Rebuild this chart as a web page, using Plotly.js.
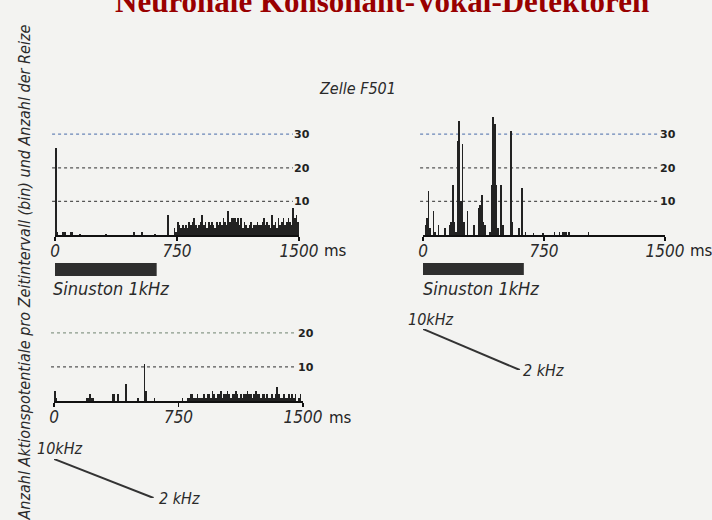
<!DOCTYPE html>
<html><head><meta charset="utf-8">
<script src="https://cdn.plot.ly/plotly-3.0.1.min.js"></script>
<style>html,body{margin:0;padding:0;background:#f3f3f1;}</style>
</head><body>
<div id="chart" style="width:712px;height:520px;"></div>
<script>
// ---- data (bin width 10 ms, 0..1500 ms) ----
const binStart = 5, binWidth = 10;
const xTicks = [0, 750, 1500];
const xTickText = ['0', '750', '1500'];
const gridTop = [10, 20, 30];
const gridBottom = [10, 20];
const stimulus = [-15, 625];          // Sinuston 1 kHz (ms, as drawn)
const sweepTime = [0, 600];           // FM sweep (ms)
const sweepFreq = [10, 2];            // kHz
const cellLabel = 'Zelle F501';

const countsTone = [
 26,1,0,0,1,1,1,0,0,1,
 1,0,0,0,0,0.4,0,0,0,0,
 0,0,0,0,0,0,0,0,0,0,
 0,0.4,0,0,0,0,0,0,0,0,
 0,0,0,0,0,0,0,0,1,0,
 0,0,0,1,0,0,0,0,0,0,
 0,0.4,0,0,0,0,0,0,0,6,
 0,0,0,2,1,4,3,2,3,2,
 3,2,4,3,4,5,3,2,3,4,
 6,3,4,2,4,3,4,3,2,4,
 3,4,3,5,4,3,7,4,5,5,
 5,4,5,3,5,2,4,3,2,3,
 4,2,3,3,4,3,3,4,5,3,
 4,3,2,6,3,4,2,5,3,4,
 5,3,4,5,4,3,8,5,6,4
];
const countsToneSweep = [
 0,3,5,13,2,0,7,1,0,3,
 0,0,0,2,0,0,3,4,15,4,
 1,28,34,10,27,4,0,7,0,0,
 0,3,0,0,8,9,12,4,3,0,
 0,1,15,35,33,15,2,0,15,3,
 0,0,0,0,31,4,0,0,0,2,
 0,14,0,1,0,0,0,0,0.5,0,
 0,0,0,0,0.5,0,0,0,0,0,
 0,1,0,0,1,0,1,1,1,0,
 1,0,0,0,0,0,0,0,0,0,
 0,0,1,0,0,0,0,0,0,0,
 0,0,0,0,0,0,0,0,0,0,
 0,0,0,0,0,0,0,0,0,0,
 0,0,0,0,0,0,0,0,0,0,
 0,0,0,0,0,0,0,0,0,0
];
const countsSweep = [
 3,1,0,0,0,0,0,0,0,0,
 0,0,0,0,0,0,0,0,0,1,
 1,2,1,1,0,0,0,0,0,0,
 0,0,0,0,0,2,2,0,2,0,
 0,0,0,5,0,0,0,0,0,0,
 1,0,0,0,11,3,0,0,0,0,
 1,0,0,0,0,0,0,0,0,0,
 0,0,0,0,0,0,0,1,0,0,
 1,1,2,2,1,1,2,1,1,1,
 2,1,2,2,1,3,2,1,2,2,
 3,1,2,2,3,2,1,2,2,3,
 2,1,2,1,2,2,3,2,2,1,
 2,3,2,2,1,2,2,1,2,1,
 1,2,1,2,4,2,1,1,2,1,
 1,2,1,2,1,2,0,1,2,0
];

// ---- layout helpers (pixel -> paper) ----
const W = 712, H = 520;
const px = p => p / W;
const py = p => 1 - p / H;

const ink = '#222';
const narrow = 'Liberation Sans Narrow, DejaVu Sans Condensed, Arial Narrow, sans-serif';
const italicFont = (size) => ({family: narrow, size: size, color: '#2a2a2a', style: 'italic'});

function bars(y, xa, ya) {
  return {type: 'bar', y: y, x0: binStart, dx: binWidth, xaxis: xa, yaxis: ya,
          marker: {color: ink, line: {width: 0}}, hoverinfo: 'skip', showlegend: false};
}
const traces = [
  bars(countsTone, 'x', 'y'),
  bars(countsToneSweep, 'x2', 'y2'),
  bars(countsSweep, 'x3', 'y3'),
  {type: 'scatter', mode: 'lines', x: sweepTime, y: sweepFreq, xaxis: 'x4', yaxis: 'y4',
   line: {color: '#333', width: 2}, hoverinfo: 'skip', showlegend: false},
  {type: 'scatter', mode: 'lines', x: sweepTime, y: sweepFreq, xaxis: 'x5', yaxis: 'y5',
   line: {color: '#333', width: 2}, hoverinfo: 'skip', showlegend: false}
];

function xAxis(d0, d1, anchor) {
  return {domain: [px(d0), px(d1)], range: [0, 1500], anchor: anchor,
          showline: true, linecolor: '#111', linewidth: 2, zeroline: false, showgrid: false,
          ticks: 'outside', ticklen: 4, tickwidth: 1.5, tickcolor: '#111', ticklabelstandoff: -4,
          tickvals: xTicks, ticktext: xTickText, tickfont: italicFont(17), fixedrange: true};
}
function yAxis(t0, t1, maxV, anchor, vals) {
  return {domain: [py(t1), py(t0)], range: [0, maxV], anchor: anchor, side: 'right',
          showline: false, showgrid: false, zeroline: false, ticks: '',
          tickvals: vals, ticktext: vals.map(String), ticklabelstandoff: -6,
          tickfont: {family: 'DejaVu Sans, sans-serif', size: 11, color: '#222', weight: 'bold'},
          fixedrange: true};
}
function hidden(dom, range, anchor) {
  return {domain: dom, range: range, autorange: false, anchor: anchor, visible: false, fixedrange: true};
}

const shapes = [];
function grid(xref, yref, vals, colors) {
  vals.forEach((v, i) => shapes.push({type: 'line', xref: xref + ' domain', yref: yref,
    x0: -0.012, x1: 0.975, y0: v, y1: v, layer: 'below',
    line: {color: colors[i], width: 1.2, dash: 'dot'}}));
}
grid('x', 'y', gridTop, ['#555', '#555', '#6a86b8']);
grid('x2', 'y2', gridTop, ['#555', '#555', '#6a86b8']);
grid('x3', 'y3', gridBottom, ['#555', '#8a9a8a']);
[['x', 263, 276], ['x2', 263, 275]].forEach(([xr, a, b]) => shapes.push({
  type: 'rect', xref: xr, yref: 'paper', x0: stimulus[0], x1: stimulus[1], y0: py(b), y1: py(a),
  fillcolor: '#2e2e2e', line: {width: 0}}));

const msFont = {family: 'DejaVu Sans, sans-serif', size: 15, color: '#222'};
const annotations = [
  {text: 'Neuronale Konsonant-Vokal-Detektoren', xref: 'paper', yref: 'paper', x: px(382), y: py(2),
   showarrow: false, xanchor: 'center', yanchor: 'middle',
   font: {family: 'Liberation Serif, DejaVu Serif, serif', size: 31, color: '#990000', weight: 'bold'}},
  {text: cellLabel, xref: 'paper', yref: 'paper', x: px(358), y: py(88), yanchor: 'middle', showarrow: false,
   font: italicFont(16)},
  {text: 'Anzahl Aktionspotentiale pro Zeitintervall (bin) und Anzahl der Reize', xref: 'paper', yref: 'paper',
   x: px(12), y: py(273), yanchor: 'middle', textangle: -90, showarrow: false, font: italicFont(16)},
  {text: 'Sinuston 1kHz', xref: 'paper', yref: 'paper', x: px(51), y: py(288), xanchor: 'left', yanchor: 'middle',
   showarrow: false, font: italicFont(18)},
  {text: 'Sinuston 1kHz', xref: 'paper', yref: 'paper', x: px(421), y: py(288), xanchor: 'left', yanchor: 'middle',
   showarrow: false, font: italicFont(18)},
  {text: 'ms', xref: 'paper', yref: 'paper', x: px(322), y: py(251), xanchor: 'left', yanchor: 'middle',
   showarrow: false, font: msFont},
  {text: 'ms', xref: 'paper', yref: 'paper', x: px(688), y: py(251), xanchor: 'left', yanchor: 'middle',
   showarrow: false, font: msFont},
  {text: 'ms', xref: 'paper', yref: 'paper', x: px(327), y: py(418), xanchor: 'left', yanchor: 'middle',
   showarrow: false, font: msFont},
  {text: sweepFreq[0] + 'kHz', xref: 'x4', yref: 'y4', x: sweepTime[0], y: sweepFreq[0], xshift: 7, yshift: 10,
   showarrow: false, font: italicFont(16)},
  {text: sweepFreq[1] + ' kHz', xref: 'x4', yref: 'y4', x: sweepTime[1], y: sweepFreq[1], xanchor: 'left',
   xshift: 1, showarrow: false, font: italicFont(16)},
  {text: sweepFreq[0] + 'kHz', xref: 'x5', yref: 'y5', x: sweepTime[0], y: sweepFreq[0], xshift: 5, yshift: 11,
   showarrow: false, font: italicFont(16)},
  {text: sweepFreq[1] + ' kHz', xref: 'x5', yref: 'y5', x: sweepTime[1], y: sweepFreq[1], xanchor: 'left',
   xshift: 3, showarrow: false, font: italicFont(16)}
];

const layout = {
  width: W, height: H, margin: {l: 0, r: 0, t: 0, b: 0},
  paper_bgcolor: '#f3f3f1', plot_bgcolor: 'rgba(0,0,0,0)',
  bargap: 0, showlegend: false,
  xaxis: xAxis(55, 299, 'y'),
  yaxis: yAxis(114, 235, 36, 'x', gridTop),
  xaxis2: xAxis(423, 665, 'y2'),
  yaxis2: yAxis(114, 235, 36, 'x2', gridTop),
  xaxis3: xAxis(54, 303, 'y3'),
  yaxis3: yAxis(326, 401, 22, 'x3', gridBottom),
  xaxis4: hidden([px(423), px(665)], [0, 1500], 'y4'),
  yaxis4: hidden([py(370), py(329)], [2, 10], 'x4'),
  xaxis5: hidden([px(54), px(303)], [0, 1500], 'y5'),
  yaxis5: hidden([py(498), py(459)], [2, 10], 'x5'),
  shapes: shapes,
  annotations: annotations
};
Plotly.newPlot('chart', traces, layout, {staticPlot: true, displayModeBar: false});
</script>
</body></html>
